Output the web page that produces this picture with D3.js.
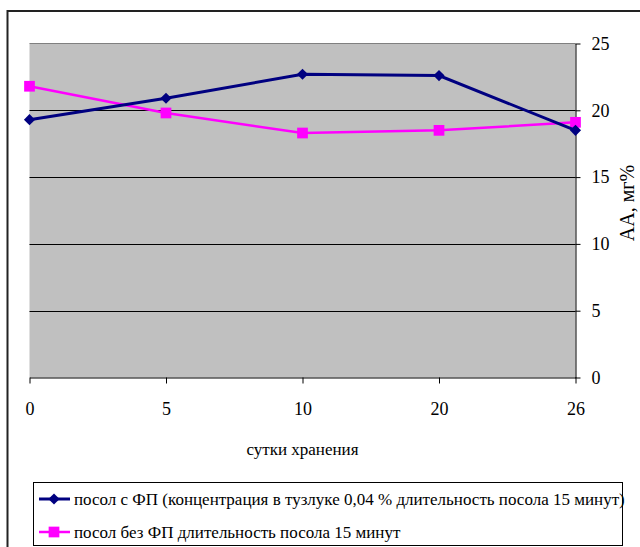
<!DOCTYPE html>
<html>
<head>
<meta charset="utf-8">
<script src="https://cdn.jsdelivr.net/npm/d3@7"></script>
<style>
body{margin:0;background:#fff;}
</style>
</head>
<body>
<div id="chart"></div>
<script>
var days = ["0","5","10","20","26"];
var withFP = [19.3, 20.9, 22.7, 22.6, 18.5];
var withoutFP = [21.8, 19.8, 18.3, 18.5, 19.1];
var yTicks = [0,5,10,15,20,25];
var seriesNames = ["посол с ФП (концентрация в тузлуке 0,04 % длительность посола 15 минут)",
	"посол без ФП длительность посола 15 минут"];
var seriesColors = ["#000080","#ff00ff"];

var serif = "'Liberation Serif','Times New Roman','DejaVu Serif',serif";
var width = 640, height = 547;
var plotL = 29.5, plotR = 575.5, plotT = 43.5, plotB = 377.5;

var svg = d3.select("#chart").append("svg")
	.attr("width",width)
	.attr("height",height);

// outer frame
svg.append("path")
	.attr("d","M7.5,547V11H640")
	.attr("fill","none")
	.attr("stroke","#222")
	.attr("stroke-width",2);

var xScale = d3.scalePoint().domain(days).range([plotL,plotR]);
var yScale = d3.scaleLinear().domain([0,25]).range([plotB,plotT]);

svg.append("rect")
	.attr("x",plotL).attr("y",plotT)
	.attr("width",plotR-plotL).attr("height",plotB-plotT)
	.attr("fill","#c0c0c0");
svg.append("line")
	.attr("x1",plotL).attr("x2",plotR)
	.attr("y1",plotT).attr("y2",plotT)
	.attr("stroke","#808080");

// gridlines
svg.selectAll(".grid")
	.data(yTicks.filter(function(d){ return d>0 && d<25; }))
	.enter().append("line")
	.attr("class","grid")
	.attr("x1",plotL).attr("x2",plotR)
	.attr("y1",function(d){ return Math.round(yScale(d))+0.5; })
	.attr("y2",function(d){ return Math.round(yScale(d))+0.5; })
	.attr("stroke","#000");

var xAxis = svg.append("g")
	.attr("transform","translate(0,"+plotB+")")
	.call(d3.axisBottom(xScale).tickSize(6).tickSizeOuter(0).tickPadding(19));
var yAxis = svg.append("g")
	.attr("transform","translate("+plotR+",0)")
	.call(d3.axisRight(yScale).tickValues(yTicks).tickSize(5).tickSizeOuter(0).tickPadding(11));
[xAxis,yAxis].forEach(function(a){
	a.attr("font-family",null);
	a.selectAll("path,line").attr("stroke","#000");
	a.selectAll("text")
		.style("font-family",serif)
		.style("font-size","18px")
		.attr("fill","#000");
});

svg.append("text")
	.attr("x",(plotL+plotR)/2)
	.attr("y",455)
	.attr("text-anchor","middle")
	.style("font-family",serif)
	.style("font-size","17px")
	.text("сутки хранения");

svg.append("text")
	.attr("transform","translate(634,203) rotate(-90)")
	.attr("text-anchor","middle")
	.style("font-family",serif)
	.style("font-size","20px")
	.text("АА, мг%");

var diamond = d3.symbol().type(d3.symbolSquare).size(62);
var square = d3.symbol().type(d3.symbolSquare).size(115);

var line = d3.line()
	.x(function(d,i){ return xScale(days[i]); })
	.y(function(d){ return yScale(d); });

[withoutFP, withFP].forEach(function(vals){
	var k = vals===withFP ? 0 : 1;
	svg.append("path")
		.datum(vals)
		.attr("d",line)
		.attr("fill","none")
		.attr("stroke",seriesColors[k])
		.attr("stroke-width",k===0?3:2.5);
	svg.selectAll(".m"+k)
		.data(vals)
		.enter().append("path")
		.attr("class","m"+k)
		.attr("d",k===0?diamond:square)
		.attr("transform",function(d,i){
			return "translate("+xScale(days[i])+","+yScale(d)+")"+(k===0?" rotate(45)":"");
		})
		.attr("fill",seriesColors[k]);
});

// legend
var legend = svg.append("g");
legend.append("rect")
	.attr("x",33.5).attr("y",482.5)
	.attr("width",589).attr("height",63)
	.attr("fill","#fff")
	.attr("stroke","#000");
var rows = legend.selectAll(".row")
	.data(seriesNames)
	.enter().append("g")
	.attr("transform",function(d,i){ return "translate(0,"+(499+i*33)+")"; });
rows.append("line")
	.attr("x1",39).attr("x2",70)
	.attr("stroke",function(d,i){ return seriesColors[i]; })
	.attr("stroke-width",function(d,i){ return i===0?3:2.5; });
rows.append("path")
	.attr("d",function(d,i){ return i===0?diamond():square(); })
	.attr("transform",function(d,i){ return "translate(54,0)"+(i===0?" rotate(45)":""); })
	.attr("fill",function(d,i){ return seriesColors[i]; });
rows.append("text")
	.attr("x",74)
	.attr("y",6)
	.style("font-family",serif)
	.style("font-size","17px")
	.text(function(d){ return d; });
</script>
</body>
</html>
